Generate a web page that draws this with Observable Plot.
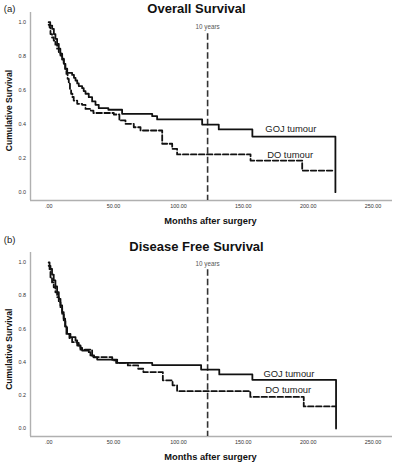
<!DOCTYPE html>
<html><head><meta charset="utf-8">
<script src="https://cdn.jsdelivr.net/npm/d3@7"></script>
<script src="https://cdn.jsdelivr.net/npm/@observablehq/plot@0.6"></script>
<style>body{margin:0;background:#fff;width:394px;} svg{display:block}</style>
</head><body><div id="chart"></div>
<script>
const xTicks = [0, 50, 100, 150, 200, 250];
const yTicks = [0, 0.2, 0.4, 0.6, 0.8, 1.0];
const groups = ["GOJ tumour", "DO tumour"];
const panelTitles = ["Overall Survival", "Disease Free Survival"];
const panelLetters = ["(a)", "(b)"];
const xLabel = "Months after surgery";
const yLabel = "Cumulative Survival";
const tenYearsLabel = "10 years";
const tenYears = 122.5;

// Panel (a) Overall survival: [months, cumulative survival]
const osGOJ = [[0,1.0],[1.2,0.98],[2.7,0.961],[4,0.93],[5.2,0.902],[6.5,0.873],[7.8,0.844],[9,0.815],[10.4,0.785],[11.7,0.755],[12.9,0.726],[14.3,0.702],[18.1,0.69],[19.5,0.673],[20.7,0.657],[22,0.64],[23.2,0.624],[25.8,0.612],[27,0.595],[28.4,0.579],[30.9,0.559],[33.5,0.534],[36.1,0.514],[38.6,0.494],[46,0.485],[56.6,0.461],[79.8,0.447],[83.6,0.428],[118.3,0.398],[131.1,0.369],[157,0.327],[221,0.0]];
const osDO = [[0,0.985],[0.7,0.97],[1.4,0.93],[2.6,0.91],[3.9,0.892],[5.2,0.868],[6.5,0.844],[7.8,0.824],[9.1,0.804],[10.4,0.78],[11.6,0.755],[12.7,0.725],[13.7,0.696],[14.6,0.667],[15.5,0.638],[16.4,0.608],[17.3,0.579],[18.3,0.56],[19.3,0.539],[22,0.52],[25.8,0.514],[28.4,0.49],[32.2,0.48],[34.5,0.466],[50.2,0.457],[54.5,0.422],[59.2,0.402],[65.6,0.382],[70.8,0.363],[87.5,0.285],[95.2,0.255],[99,0.222],[155.6,0.186],[195.4,0.127],[219.7,0.127]];
// Panel (b) Disease free survival
const dfsGOJ = [[0,1.0],[0.7,0.98],[1.4,0.962],[2.6,0.927],[3.9,0.892],[5.2,0.856],[6.5,0.821],[7.8,0.781],[9.1,0.741],[10.4,0.701],[11.6,0.661],[12.7,0.615],[13.7,0.57],[16.8,0.55],[20.7,0.53],[22,0.515],[23.2,0.5],[24.5,0.485],[25.8,0.47],[30.9,0.46],[32.2,0.44],[35,0.428],[37.4,0.415],[52.8,0.395],[79.8,0.382],[117.5,0.355],[131.5,0.326],[157,0.293],[221.5,0.0]];
const dfsDO = [[0,0.98],[0.7,0.96],[1.4,0.911],[2.6,0.88],[3.9,0.851],[5.2,0.82],[6.5,0.791],[7.8,0.76],[9.1,0.731],[10.4,0.69],[11.6,0.65],[12.9,0.61],[14.2,0.57],[16,0.545],[18.1,0.52],[22,0.5],[24.5,0.475],[33.5,0.43],[49,0.41],[52,0.395],[61,0.38],[69,0.36],[73,0.34],[88,0.29],[95.5,0.26],[99,0.225],[155.4,0.19],[196.6,0.133],[221,0.133]];
// label anchor points [months, survival]
const labelPosA = [[167,0.369],[168.4,0.218]];
const labelPosB = [[165.5,0.331],[167,0.229]];

const FONT = 'Arial, "Liberation Sans", Helvetica, sans-serif';

function drawPanel(p) {
  const W = 394, H = 232, ml = 30, mr = 2;
  const xDom = [-14, 265];
  const line = (data, dash) => Plot.line(data, {
    x: d => d[0], y: d => d[1], curve: "step-after",
    stroke: "#111", strokeWidth: 1.8, strokeDasharray: dash
  });
  const labelData = groups.map((g, i) => ({g, x: p.labels[i][0], y: p.labels[i][1]}));
  return Plot.plot({
    width: W, height: H,
    marginLeft: ml, marginRight: mr, marginTop: p.mt, marginBottom: p.mb,
    x: {domain: xDom},
    y: {domain: [p.yBot, p.yTop]},
    style: {fontFamily: FONT, background: "#fff", color: "#333", overflow: "visible"},
    marks: [
      Plot.ruleX([xDom[0]], {stroke: "#b0b0b0", strokeWidth: 1.4}),
      Plot.ruleY([p.yBot], {stroke: "#b0b0b0", strokeWidth: 1.4}),
      Plot.axisX({ticks: xTicks, tickSize: 0, tickPadding: 4, fontSize: 5.4,
        tickFormat: d => d === 0 ? ".00" : d.toFixed(2), label: null}),
      Plot.axisY({ticks: yTicks, tickSize: 0, tickPadding: 4.5, fontSize: 5.4,
        tickFormat: d => d.toFixed(1), label: null}),
      Plot.ruleX([tenYears], {y1: () => p.tenY1, y2: () => p.yBot,
        stroke: "#333", strokeWidth: 1.6, strokeDasharray: "6.5,3"}),
      Plot.text([tenYearsLabel], {x: () => tenYears, y: () => p.tenLabelY, text: d => d,
        fontSize: 6.3, fill: "#555", textAnchor: "middle", lineAnchor: "middle"}),
      line(p.goj, null),
      line(p.dox, "5.5,2.5"),
      Plot.text(labelData, {x: "x", y: "y", text: "g", fontSize: 9.4, fill: "#222",
        textAnchor: "start", lineAnchor: "middle"}),
      Plot.text([p.title], {frameAnchor: "top-left", dx: 196 - ml, dy: p.titleBase - p.mt,
        text: d => d, textAnchor: "middle", lineAnchor: "bottom", fontSize: 13,
        fontWeight: "bold", fill: "#111"}),
      Plot.text([p.letter], {frameAnchor: "top-left", dx: 3.3 - ml, dy: p.letterBase - p.mt,
        text: d => d, textAnchor: "start", lineAnchor: "bottom", fontSize: 9.5, fill: "#222"}),
      Plot.text([yLabel], {frameAnchor: "top-left", dx: 8.3 - ml, dy: p.yLabelY - p.mt,
        text: d => d, rotate: -90, textAnchor: "middle", lineAnchor: "middle",
        fontSize: 8.5, fontWeight: "bold", fill: "#111"}),
      Plot.text([xLabel], {frameAnchor: "top-left", dx: 210 - ml, dy: p.xLabelY - p.mt,
        text: d => d, textAnchor: "middle", lineAnchor: "middle",
        fontSize: 9.3, fontWeight: "bold", fill: "#111"})
    ]
  });
}

const chart = document.getElementById("chart");
chart.appendChild(drawPanel({
  letter: panelLetters[0], title: panelTitles[0], goj: osGOJ, dox: osDO, labels: labelPosA,
  mt: 12, mb: 32, yTop: 1.057, yBot: -0.0488, titleBase: 12.5, letterBase: 11,
  yLabelY: 110, xLabelY: 220.5, tenY1: 0.932, tenLabelY: 0.969
}));
chart.appendChild(drawPanel({
  letter: panelLetters[1], title: panelTitles[1], goj: dfsGOJ, dox: dfsDO, labels: labelPosB,
  mt: 20, mb: 28, yTop: 1.0602, yBot: -0.0482, titleBase: 18.5, letterBase: 10,
  yLabelY: 116.7, xLabelY: 224.5, tenY1: 0.956, tenLabelY: 0.992
}));
</script>
</body></html>
